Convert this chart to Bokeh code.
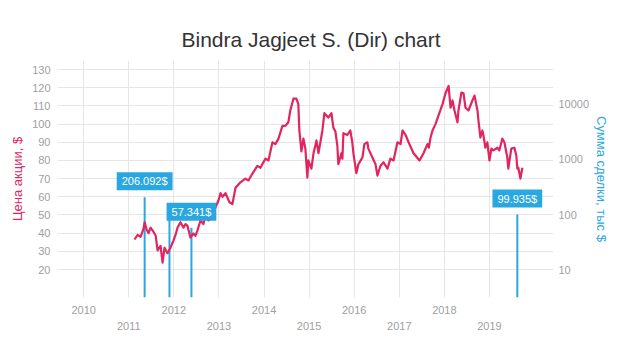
import pandas as pd
from bokeh.plotting import figure
from bokeh.models import (Range1d, LinearAxis, LogAxis, LogScale, FixedTicker, Grid,
                          Label, ColumnDataSource, PrintfTickFormatter, DatetimeTickFormatter)
from bokeh.embed import file_html
from bokeh.resources import INLINE

# ---------------- data ----------------
price_dates = [
    "2011-02-17", "2011-03-13", "2011-04-07", "2011-05-01", "2011-05-10", "2011-05-26",
    "2011-06-11", "2011-06-27", "2011-07-13", "2011-08-07", "2011-08-23", "2011-09-16",
    "2011-10-02", "2011-10-18", "2011-11-11", "2011-12-05", "2011-12-30", "2012-01-15",
    "2012-01-31", "2012-02-24", "2012-03-20", "2012-04-05", "2012-04-21", "2012-05-15",
    "2012-06-08", "2012-06-24", "2012-07-11", "2012-08-04", "2012-08-28", "2012-09-13",
    "2012-10-08", "2012-11-09", "2012-12-03", "2012-12-28", "2013-01-14", "2013-01-30",
    "2013-02-23", "2013-03-27", "2013-04-20", "2013-05-15", "2013-06-24", "2013-08-03",
    "2013-08-28", "2013-09-29", "2013-11-08", "2013-12-03", "2013-12-19", "2014-01-13",
    "2014-02-06", "2014-03-10", "2014-04-03", "2014-04-28", "2014-05-30", "2014-06-23",
    "2014-07-17", "2014-08-02", "2014-08-27", "2014-09-20", "2014-10-06", "2014-10-14",
    "2014-10-31", "2014-11-16", "2014-12-02", "2014-12-18", "2014-12-26", "2015-01-20",
    "2015-02-06", "2015-03-02", "2015-03-18", "2015-04-19", "2015-05-05", "2015-06-06",
    "2015-07-01", "2015-07-17", "2015-08-02", "2015-08-18", "2015-08-26", "2015-09-20",
    "2015-09-28", "2015-10-06", "2015-11-07", "2015-12-01", "2015-12-17", "2015-12-26",
    "2016-01-19", "2016-02-05", "2016-03-08", "2016-03-24", "2016-04-17", "2016-04-25",
    "2016-05-28", "2016-06-22", "2016-07-08", "2016-08-01", "2016-08-26", "2016-09-27",
    "2016-10-21", "2016-11-15", "2016-12-17", "2017-01-11", "2017-01-27", "2017-02-21",
    "2017-03-17", "2017-04-26", "2017-06-14", "2017-07-16", "2017-08-17", "2017-08-28",
    "2017-09-11", "2017-09-27", "2017-10-21", "2017-11-14", "2017-12-17", "2018-01-10",
    "2018-02-04", "2018-02-20", "2018-03-08", "2018-03-24", "2018-04-17", "2018-04-25",
    "2018-05-19", "2018-06-05", "2018-06-21", "2018-07-15", "2018-08-16", "2018-09-02",
    "2018-09-26", "2018-10-04", "2018-10-20", "2018-11-05", "2018-11-13", "2018-11-29",
    "2018-12-15", "2019-01-01", "2019-01-17", "2019-02-02", "2019-03-06", "2019-03-22",
    "2019-04-15", "2019-05-02", "2019-05-26", "2019-06-03", "2019-06-27", "2019-07-22",
    "2019-08-07", "2019-08-15", "2019-08-23", "2019-09-09", "2019-09-25",
]
price_values = [
    36.5, 39.0, 38.0, 42.5, 46.0, 42.0,
    40.0, 43.0, 41.5, 38.7, 30.5, 33.0,
    23.8, 32.0, 29.0, 32.0, 36.0, 39.0,
    43.0, 46.0, 43.0, 45.0, 44.0, 37.6,
    39.8, 38.5, 41.5, 47.0, 45.0, 49.7,
    47.0, 48.6, 54.0, 58.0, 62.0, 60.0,
    62.0, 57.0, 56.0, 65.0, 68.0, 70.0,
    69.0, 72.8, 77.0, 76.0, 78.0, 81.0,
    80.0, 90.0, 89.0, 92.0, 99.0, 99.0,
    101.0, 107.5, 114.0, 114.0, 111.0, 96.5,
    85.0, 92.0, 86.5, 70.6, 80.0, 75.5,
    84.0, 91.0, 84.0, 96.5, 106.0, 103.6,
    106.0, 98.0, 96.0, 88.0, 78.0, 84.0,
    81.0, 95.0, 94.0, 96.5, 90.0, 84.0,
    73.0, 78.0, 81.6, 89.0, 90.0, 86.5,
    81.6, 78.0, 71.7, 77.0, 79.0, 75.5,
    81.0, 80.0, 90.0, 89.0, 96.5, 94.0,
    90.0, 84.0, 80.0, 84.0, 89.0, 87.0,
    92.6, 96.5, 100.0, 104.7, 111.0, 117.0,
    121.0, 109.0, 113.0, 107.5, 101.0, 107.5,
    117.4, 117.0, 109.0, 107.5, 113.0, 115.7,
    107.5, 102.0, 92.6, 96.5, 94.0, 87.0,
    90.0, 80.0, 86.5, 85.5, 87.0, 85.5,
    92.0, 90.0, 81.6, 75.5, 86.5, 87.0,
    82.7, 75.5, 76.0, 70.0, 76.0,
]

deal_dates = ["2011-05-10", "2011-11-27", "2012-05-23", "2019-08-15"]
deal_values = [206.092, 120.0, 57.341, 99.935]
deal_labeled = [True, False, True, True]

price_ticks = [20, 30, 40, 50, 60, 70, 80, 90, 100, 110, 120, 130]
volume_ticks = [10, 100, 1000, 10000]
years_upper = [2010, 2012, 2014, 2016, 2018]
years_lower = [2011, 2013, 2015, 2017, 2019]
grid_years = [2010, 2011, 2012, 2013, 2014, 2015, 2016, 2017, 2018, 2019]

# ---------------- styles ----------------
PINK = "#e2245f"
BLUE = "#2aa7e1"
GRID = "#e6e6e6"
TICK = "#a0a0a0"
FONT = "Liberation Sans"


def ms(s):
    return pd.Timestamp(s).value / 1e6


def year_ms(years):
    return [ms(f"{y}-01-01") for y in years]


src = ColumnDataSource(dict(x=[ms(d) for d in price_dates], y=price_values))
bars = ColumnDataSource(dict(x=[ms(d) for d in deal_dates], y=deal_values))

p = figure(frame_width=496, frame_height=237,
           min_border_left=57, min_border_right=67, min_border_top=60, min_border_bottom=46,
           x_axis_type=None, y_axis_type=None,
           x_range=Range1d(ms("2009-06-03"), ms("2020-06-03")),
           y_range=Range1d(4.6, 135),
           output_backend="svg", toolbar_location=None)
p.outline_line_color = None
p.extra_y_ranges = {"vol": Range1d(3.1, 63000)}
p.extra_y_scales = {"vol": LogScale()}

p.title.text = "Bindra Jagjeet S. (Dir) chart"
p.title.align = "left"
p.title.offset = 124
p.title.text_font = FONT
p.title.text_font_size = "21px"
p.title.text_font_style = "normal"
p.title.text_color = "#333333"
p.title.standoff = 19

p.add_layout(Grid(dimension=0, ticker=FixedTicker(ticks=year_ms(grid_years)),
                  grid_line_color=GRID))
p.add_layout(Grid(dimension=1, ticker=FixedTicker(ticks=price_ticks), grid_line_color=GRID))


def style_axis(ax):
    ax.axis_line_color = None
    ax.major_tick_line_color = None
    ax.minor_tick_line_color = None
    ax.major_tick_out = 0
    ax.major_tick_in = 0
    ax.minor_tick_out = 0
    ax.minor_tick_in = 0
    ax.major_label_text_color = TICK
    ax.major_label_text_font = FONT
    ax.major_label_text_font_size = "11px"
    ax.axis_label_text_font = FONT
    ax.axis_label_text_font_style = "normal"
    ax.axis_label_text_font_size = "13px"


left = LinearAxis(ticker=FixedTicker(ticks=price_ticks), axis_label="Цена акции, $")
style_axis(left)
left.axis_label_text_color = PINK
left.major_label_standoff = 7
left.axis_label_standoff = 4
p.add_layout(left, "left")

right = LogAxis(y_range_name="vol", ticker=FixedTicker(ticks=volume_ticks),
                formatter=PrintfTickFormatter(format="%d"), axis_label="Сумма сделки, тыс $")
style_axis(right)
right.axis_label_text_color = BLUE
right.major_label_standoff = 5
right.axis_label_standoff = 2
p.add_layout(right, "right")

yfmt = DatetimeTickFormatter(microseconds="%Y", milliseconds="%Y", seconds="%Y", minsec="%Y",
                             minutes="%Y", hourmin="%Y", hours="%Y", days="%Y",
                             months="%Y", years="%Y")
ax_up = LinearAxis(ticker=FixedTicker(ticks=year_ms(years_upper)), formatter=yfmt)
style_axis(ax_up)
ax_up.major_label_standoff = 8
p.add_layout(ax_up, "below")
ax_lo = LinearAxis(ticker=FixedTicker(ticks=year_ms(years_lower)), formatter=yfmt)
style_axis(ax_lo)
ax_lo.major_label_standoff = 5
p.add_layout(ax_lo, "below")

p.segment(x0="x", y0=3.1, x1="x", y1="y", source=bars, y_range_name="vol",
          line_color=BLUE, line_width=2)
p.line(x="x", y="y", source=src, line_color=PINK, line_width=2.2, line_join="round")

for d, v, lab in zip(deal_dates, deal_values, deal_labeled):
    if not lab:
        continue
    p.add_layout(Label(x=ms(d), y=v, y_range_name="vol", text=f"{v:.3f}$",
                       text_align="center", text_baseline="middle", y_offset=16,
                       text_color="white", text_font=FONT, text_font_size="11px",
                       background_fill_color=BLUE,
                       padding=dict(left=5, right=5, top=3, bottom=3)))

open("out.html", "w").write(file_html(p, INLINE))
